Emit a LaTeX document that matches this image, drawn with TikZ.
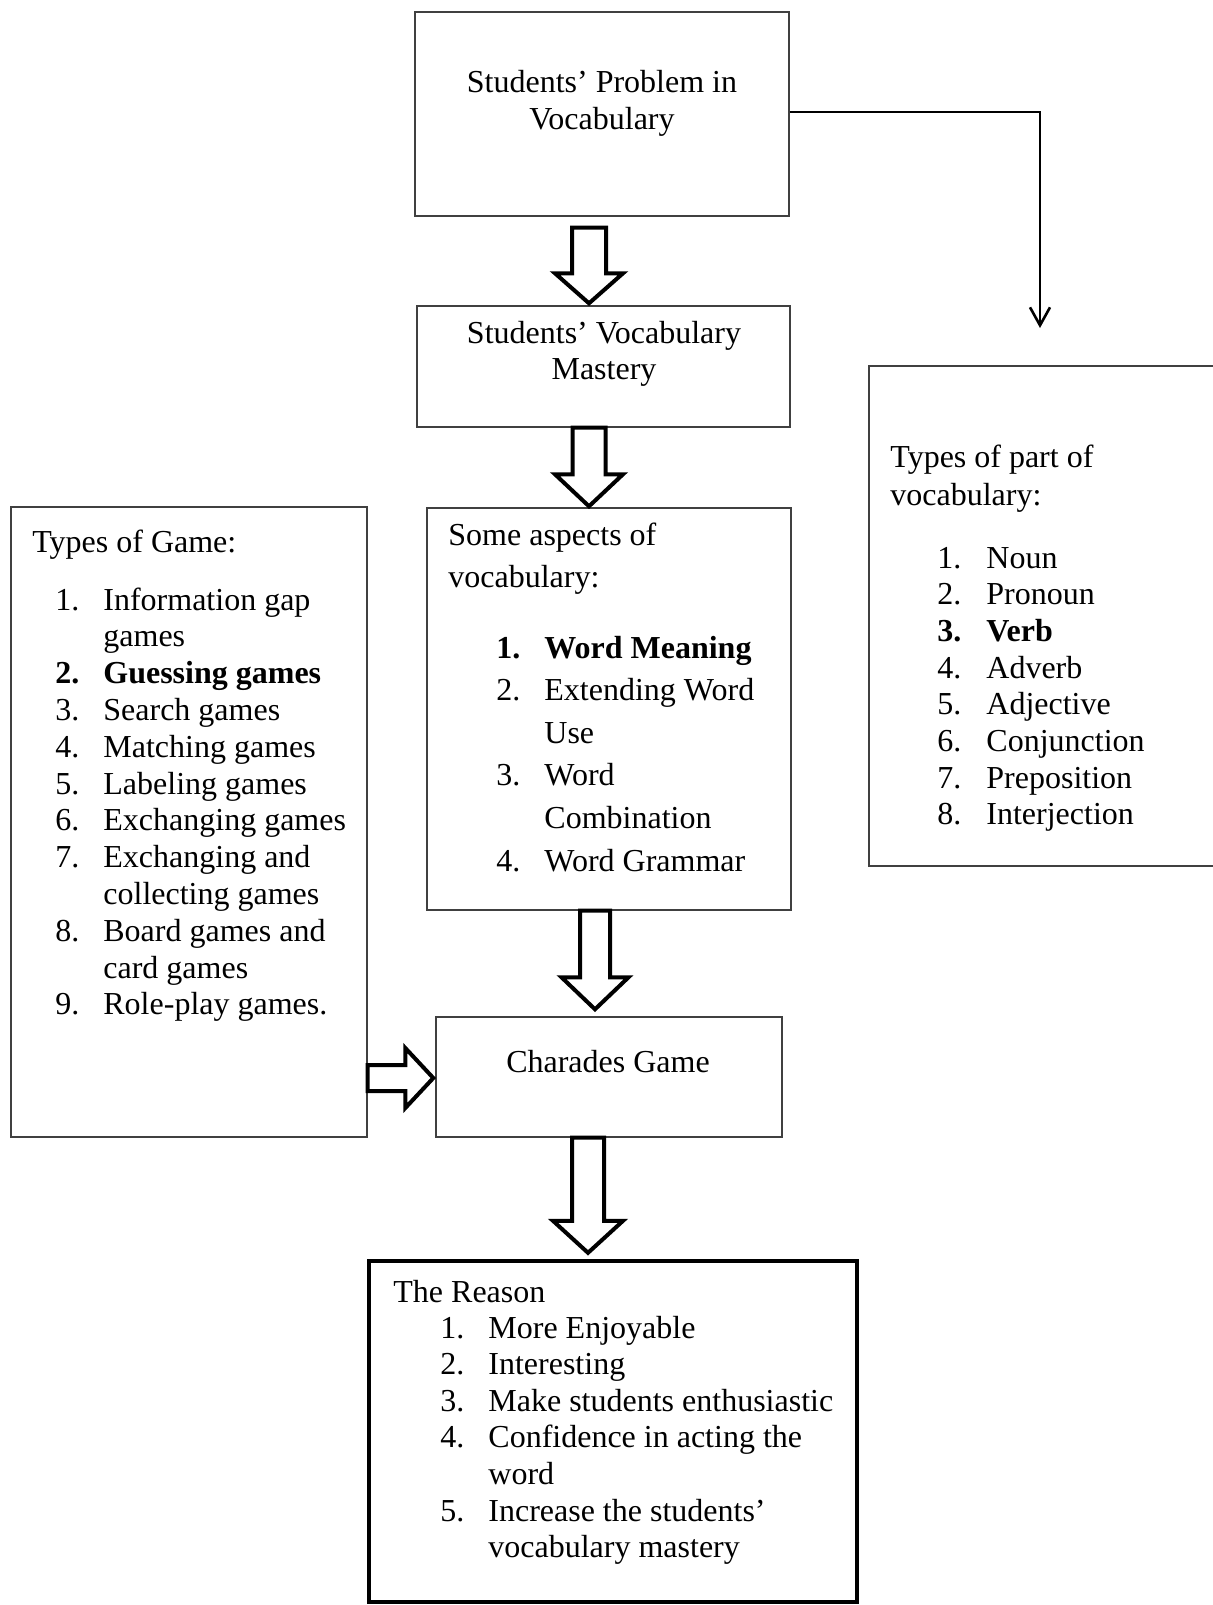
\documentclass[tikz,border=0pt]{standalone}
\usepackage{fontspec}
\setmainfont{Liberation Serif}
\usetikzlibrary{fit,calc,arrows.meta}
% #1 from node, #2 to node, #3 x coordinate name, #4 shaft half width, #5 head half width, #6 head length, #7 top gap, #8 bottom gap
\newcommand{\DownBlk}[8]{%
  \coordinate (tA) at ($(#1.south -| #3)+(0,#7)$);
  \coordinate (tB) at ($(#2.north -| #3)+(0,-#8)$);
  \draw[blk] ($(tA)+(-#4,0)$) -- ($(tB)+(-#4,-#6)$) -- ($(tB)+(-#5,-#6)$) -- (tB)
     -- ($(tB)+(#5,-#6)$) -- ($(tB)+(#4,-#6)$) -- ($(tA)+(#4,0)$) -- cycle;
}
\begin{document}
\begin{tikzpicture}[x=0.5pt,y=-0.5pt,
  box/.style={draw=black!75,line width=0.7pt,inner sep=0pt},
  thickbox/.style={draw=black,line width=2.2pt,inner sep=0pt},
  blk/.style={draw=black,line width=2pt,fill=white,line join=miter},
  elbow/.style={draw=black,line width=1.3pt,-{Straight Barb[length=9pt,width=10pt]}},
  txt/.style={inner sep=0pt,font=\fontsize{16}{18.4}\selectfont},
  txtw/.style={inner sep=0pt,font=\fontsize{16}{21.3}\selectfont},
  txtr/.style={inner sep=0pt,font=\fontsize{16}{19}\selectfont}
]
\useasboundingbox[fill=white] (0,0) rectangle (1212,1605);

% boxes
\node[box,fit={(415,12) (789,216)}] (b1) {};
\node[box,fit={(417,306) (790,427)}] (b2) {};
\node[box,fit={(427,508) (791,910)}] (b3) {};
\node[box,fit={(436,1017) (782,1137)}] (cg) {};
\node[box,fit={(11,507) (367,1137)}] (lb) {};
\node[box,fit={(869,366) (1218,866)}] (rb) {};
\node[thickbox,fit={(369,1261) (857,1602)}] (rs) {};

% texts
\node[txt,anchor=base] (t1) at (602,93) {\begin{tabular}[t]{@{}c@{}}Students’ Problem in\\Vocabulary\end{tabular}};
\node[txt,anchor=base] (t2) at (604,343) {\begin{tabular}[t]{@{}c@{}}Students’ Vocabulary\\Mastery\end{tabular}};
\node[txt,anchor=base] (t4) at (608,1072) {Charades Game};

\node[txt,anchor=base west] (lh) at (32,552) {Types of Game:};
\node[txt,anchor=base west] (ll) at (55,610) {\begin{tabular}[t]{@{}p{24pt}@{}l@{}}
1. & Information gap\\
   & games\\
\textbf{2.} & \textbf{Guessing games}\\
3. & Search games\\
4. & Matching games\\
5. & Labeling games\\
6. & Exchanging games\\
7. & Exchanging and\\
   & collecting games\\
8. & Board games and\\
   & card games\\
9. & Role-play games.
\end{tabular}};

\node[txtw,anchor=base west] (mh) at (448,545) {\begin{tabular}[t]{@{}l@{}}Some aspects of\\vocabulary:\end{tabular}};
\node[txtw,anchor=base west] (ml) at (496,658) {\begin{tabular}[t]{@{}p{24pt}@{}l@{}}
\textbf{1.} & \textbf{Word Meaning}\\
2. & Extending Word\\
   & Use\\
3. & Word\\
   & Combination\\
4. & Word Grammar
\end{tabular}};

\node[txtr,anchor=base west] (rh) at (890,467) {\begin{tabular}[t]{@{}l@{}}Types of part of\\vocabulary:\end{tabular}};
\node[inner sep=0pt,font=\fontsize{16}{18.35}\selectfont,anchor=base west] (rl) at (937,568) {\begin{tabular}[t]{@{}p{24.5pt}@{}l@{}}
1. & Noun\\
2. & Pronoun\\
\textbf{3.} & \textbf{Verb}\\
4. & Adverb\\
5. & Adjective\\
6. & Conjunction\\
7. & Preposition\\
8. & Interjection
\end{tabular}};

\node[txt,anchor=base west] (sh) at (393,1302) {The Reason};
\node[inner sep=0pt,font=\fontsize{16}{18.3}\selectfont,anchor=base west] (sl) at (440,1338) {\begin{tabular}[t]{@{}p{24pt}@{}l@{}}
1. & More Enjoyable\\
2. & Interesting\\
3. & Make students enthusiastic\\
4. & Confidence in acting the\\
   & word\\
5. & Increase the students’\\
   & vocabulary mastery
\end{tabular}};

% block arrows
\coordinate (xa) at (589,0);
\coordinate (xb) at (589,0);
\coordinate (xc) at (595,0);
\coordinate (xd) at (588,0);
\DownBlk{b1}{b2}{xa}{17}{34}{30}{11}{2}
\DownBlk{b2}{b3}{xb}{16.5}{34}{32}{0}{1}
\DownBlk{b3}{cg}{xc}{15}{33.5}{32}{0}{7}
\DownBlk{cg}{rs}{xd}{16}{35}{32}{0}{6}

\coordinate (hy) at (0,1078);
\draw[blk] ($(lb.east |- hy)+(0,-13)$) -- ($(cg.west |- hy)+(-30,-13)$) -- ($(cg.west |- hy)+(-30,-30)$)
  -- ($(cg.west |- hy)+(-2,0)$) -- ($(cg.west |- hy)+(-30,30)$) -- ($(cg.west |- hy)+(-30,13)$)
  -- ($(lb.east |- hy)+(0,13)$) -- cycle;

% elbow connector
\coordinate (et) at (1040,328);
\draw[elbow] ($(b1.east)+(0,-2)$) -| (et);
\end{tikzpicture}
\end{document}
